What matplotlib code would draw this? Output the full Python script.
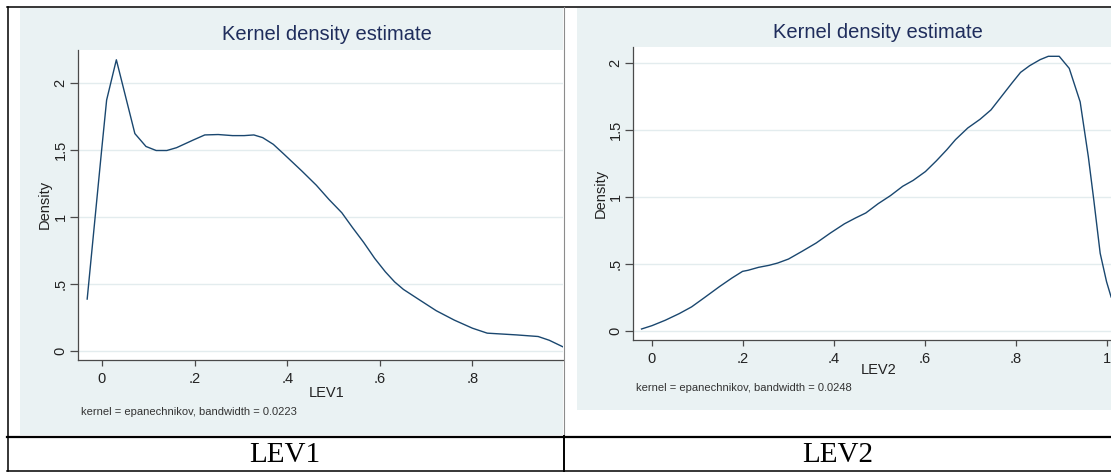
import matplotlib.pyplot as plt
from matplotlib.lines import Line2D
from matplotlib.patches import Rectangle

W, H = 1111, 472

# LEV1 kernel density
lev1_x = [-0.032, -0.001, 0.010, 0.031, 0.071, 0.095, 0.117, 0.140, 0.161, 0.197,
          0.222, 0.251, 0.282, 0.307, 0.328, 0.347, 0.370, 0.392, 0.432, 0.463,
          0.490, 0.518, 0.541, 0.565, 0.589, 0.612, 0.632, 0.651, 0.683, 0.722,
          0.761, 0.800, 0.832, 0.895, 0.942, 0.966, 0.998]
lev1_y = [0.387, 1.49, 1.87, 2.17, 1.62, 1.524, 1.494, 1.494, 1.515, 1.572,
          1.61, 1.613, 1.605, 1.605, 1.61, 1.59, 1.54, 1.47, 1.34, 1.235,
          1.13, 1.03, 0.92, 0.81, 0.69, 0.59, 0.515, 0.459, 0.387, 0.30,
          0.23, 0.17, 0.133, 0.12, 0.108, 0.08, 0.027]

# LEV2 kernel density
lev2_x = [-0.023, 0.0, 0.029, 0.060, 0.087, 0.114, 0.149, 0.176, 0.199, 0.211,
          0.234, 0.257, 0.276, 0.300, 0.330, 0.361, 0.392, 0.423, 0.447, 0.470,
          0.497, 0.524, 0.551, 0.574, 0.601, 0.625, 0.648, 0.667, 0.694, 0.721,
          0.745, 0.768, 0.791, 0.810, 0.830, 0.853, 0.871, 0.895, 0.917, 0.941,
          0.959, 0.971, 0.985, 0.999, 1.009]
lev2_y = [0.015, 0.04, 0.08, 0.13, 0.18, 0.246, 0.333, 0.396, 0.445, 0.453,
          0.475, 0.49, 0.507, 0.537, 0.595, 0.657, 0.731, 0.80, 0.843, 0.881,
          0.95, 1.01, 1.08, 1.124, 1.19, 1.27, 1.353, 1.428, 1.515, 1.58,
          1.65, 1.75, 1.85, 1.93, 1.98, 2.025, 2.05, 2.05, 1.96, 1.71,
          1.30, 0.977, 0.58, 0.368, 0.254]

y_ticks = [0, 0.5, 1, 1.5, 2]
y_labels = ["0", ".5", "1", "1.5", "2"]
x_ticks1 = [0, 0.2, 0.4, 0.6, 0.8]
x_labels1 = ["0", ".2", ".4", ".6", ".8"]
x_ticks2 = [0, 0.2, 0.4, 0.6, 0.8, 1]
x_labels2 = ["0", ".2", ".4", ".6", ".8", "1"]

BG = "#eaf2f3"
LINE = "#1a476f"
TITLE = "#1f2d5c"
AXIS = "#4a4a4a"
SANS = ["Liberation Sans", "DejaVu Sans"]
SERIF = ["Liberation Serif", "DejaVu Serif"]


def fx(x):
    return x / W


def fy(y):
    return 1 - y / H


def add_axes_px(fig, x0, y0, x1, y1):
    return fig.add_axes([fx(x0), fy(y1), (x1 - x0) / W, (y1 - y0) / H])


def style_axes(ax, xt, xl):
    ax.set_facecolor("white")
    for s in ("top", "right"):
        ax.spines[s].set_visible(False)
    for s in ("left", "bottom"):
        ax.spines[s].set_color(AXIS)
        ax.spines[s].set_linewidth(0.9)
    ax.set_yticks(y_ticks)
    ax.set_yticklabels(y_labels, rotation=90, va="center", fontsize=10.5,
                       family=SANS, color="#222222")
    ax.set_xticks(xt)
    ax.set_xticklabels(xl, fontsize=10.5, family=SANS, color="#222222")
    ax.tick_params(axis="y", length=5.5, width=0.9, color=AXIS, pad=2)
    ax.tick_params(axis="x", length=4.5, width=0.9, color=AXIS, pad=4)
    ax.grid(axis="y", color="#e3ecee", linewidth=1.0)
    ax.set_axisbelow(True)


fig = plt.figure(figsize=(W / 100, H / 100), dpi=100)
fig.patch.set_facecolor("white")

# graph backgrounds
fig.patches.append(Rectangle((fx(20), fy(435)), (563 - 20) / W, (435 - 8) / H,
                             transform=fig.transFigure, facecolor=BG,
                             edgecolor="none", zorder=-1))
fig.patches.append(Rectangle((fx(577), fy(410)), (1111 - 577) / W, (410 - 8) / H,
                             transform=fig.transFigure, facecolor=BG,
                             edgecolor="none", zorder=-1))

# LEV1 panel
ax1 = add_axes_px(fig, 78, 50, 563, 360)
ax1.plot(lev1_x, lev1_y, color=LINE, linewidth=1.0)
ax1.set_xlim((78 - 102) / 463, (563 - 102) / 463)
ax1.set_ylim((351 - 360) / 134.2, (351 - 50) / 134.2)
style_axes(ax1, x_ticks1, x_labels1)
fig.text(fx(327), fy(35), "Kernel density estimate", ha="center", va="center",
         fontsize=14.5, family=SANS, color=TITLE)
fig.text(fx(45), fy(204), "Density", rotation=90, ha="center", va="center",
         fontsize=10.5, family=SANS, color="#222222")
fig.text(fx(327), fy(393), "LEV1", ha="center", va="center",
         fontsize=10.5, family=SANS, color="#222222")
fig.text(fx(81), fy(412), "kernel = epanechnikov, bandwidth = 0.0223",
         ha="left", va="center", fontsize=8, family=SANS, color="#333333")

# LEV2 panel
ax2 = add_axes_px(fig, 633, 47, 1111, 340)
ax2.plot(lev2_x, lev2_y, color=LINE, linewidth=1.0)
ax2.set_xlim((633 - 652) / 455, (1111 - 652) / 455)
ax2.set_ylim((331 - 340) / 134, (331 - 47) / 134)
style_axes(ax2, x_ticks2, x_labels2)
fig.text(fx(878), fy(33), "Kernel density estimate", ha="center", va="center",
         fontsize=14.5, family=SANS, color=TITLE)
fig.text(fx(601), fy(193), "Density", rotation=90, ha="center", va="center",
         fontsize=10.5, family=SANS, color="#222222")
fig.text(fx(879), fy(370), "LEV2", ha="center", va="center",
         fontsize=10.5, family=SANS, color="#222222")
fig.text(fx(636), fy(388), "kernel = epanechnikov, bandwidth = 0.0248",
         ha="left", va="center", fontsize=8, family=SANS, color="#333333")


# table grid
def hline(y, x0, x1, lw, color="black"):
    fig.add_artist(Line2D([fx(x0), fx(x1)], [fy(y), fy(y)], color=color,
                          linewidth=lw, transform=fig.transFigure, zorder=5))


def vline(x, y0, y1, lw, color="black"):
    fig.add_artist(Line2D([fx(x), fx(x)], [fy(y0), fy(y1)], color=color,
                          linewidth=lw, transform=fig.transFigure, zorder=5))


hline(7, 7, 1111, 1.1)
hline(436.5, 7, 1111, 1.6)
hline(470.5, 7, 1111, 1.1)
vline(7.5, 7, 471, 1.1)
vline(563.5, 7, 436, 0.8, "#8c8c8c")
vline(563.5, 436, 471, 1.4)

fig.text(fx(285), fy(455), "LEV1", ha="center", va="center",
         fontsize=21, family=SERIF, color="black")
fig.text(fx(838), fy(455), "LEV2", ha="center", va="center",
         fontsize=21, family=SERIF, color="black")

fig.savefig("out.png", dpi=100)
